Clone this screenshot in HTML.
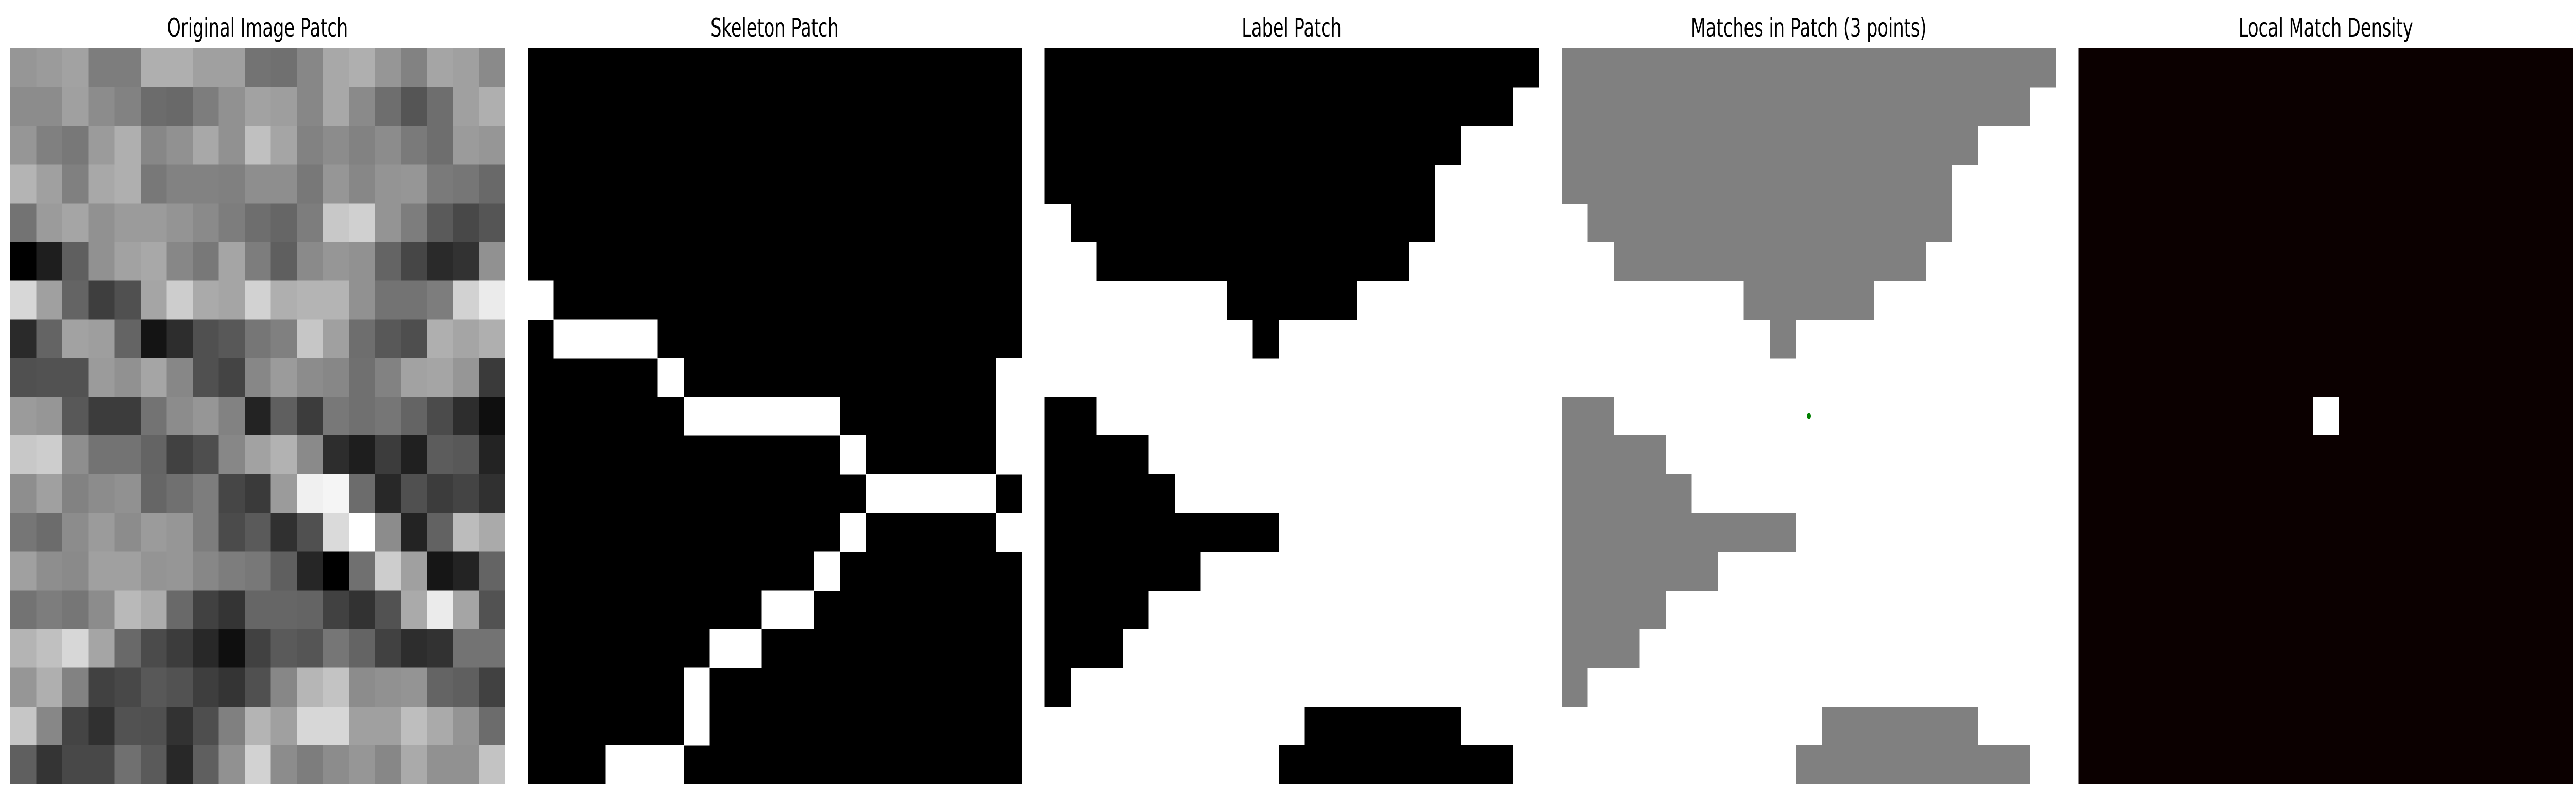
<!DOCTYPE html>
<html><head><meta charset="utf-8"><style>
html,body{margin:0;padding:0;background:#fff;width:100%;height:100%;overflow:hidden;}
svg{display:block;width:100vw;height:100vh;}
text{font-family:"DejaVu Sans","Liberation Sans",sans-serif;font-size:50px;fill:#000;}
</style></head><body>
<svg id="fig" viewBox="0 0 7433 1533" preserveAspectRatio="none" xmlns="http://www.w3.org/2000/svg">
<rect x="0" y="0" width="7433" height="1533" fill="#fff"/>
<text x="743" y="71" text-anchor="middle">Original Image Patch</text>
<text x="2235" y="71" text-anchor="middle">Skeleton Patch</text>
<text x="3727" y="71" text-anchor="middle">Label Patch</text>
<text x="5219" y="71" text-anchor="middle">Matches in Patch (3 points)</text>
<text x="6711" y="71" text-anchor="middle">Local Match Density</text>
</svg>
<script>
const gray = [
[150,155,162,125,125,175,175,160,160,115,112,135,168,175,150,130,165,160,138],
[140,140,160,140,130,108,105,125,145,162,158,135,168,138,110,85,110,160,175],
[150,128,120,155,175,135,145,168,145,192,165,130,140,130,140,122,110,155,150],
[180,160,128,168,175,120,130,130,128,142,142,120,150,135,148,150,122,118,105],
[115,155,165,145,155,155,148,138,125,110,102,125,200,208,148,125,90,72,85],
[0,30,95,145,162,168,135,120,165,125,95,138,150,145,100,70,42,50,145],
[215,160,100,62,80,165,205,170,165,210,175,180,180,145,115,115,125,210,235],
[42,100,162,158,100,20,45,80,88,118,128,198,160,110,88,78,175,165,175],
[80,82,82,155,145,165,135,80,68,135,155,140,135,112,130,162,165,150,58],
[155,150,88,60,60,115,140,150,130,35,95,60,120,112,118,100,75,45,15],
[200,205,142,115,115,100,65,78,135,162,178,138,45,30,60,32,92,88,35],
[142,160,130,140,145,102,112,125,70,58,155,240,245,108,40,80,60,68,48],
[118,108,140,155,140,155,150,125,75,90,48,80,218,255,140,35,98,188,170],
[160,142,138,160,160,148,150,135,125,120,95,38,0,112,205,160,22,35,100],
[115,125,118,140,185,172,105,65,52,102,102,100,65,50,82,170,235,165,82],
[180,192,215,165,105,75,60,40,15,65,90,85,118,100,65,45,50,115,115],
[150,175,130,65,72,88,82,62,52,80,135,182,195,140,145,148,100,95,65],
[198,135,68,48,82,80,50,78,128,180,160,215,215,160,160,190,170,148,108],
[95,52,72,72,112,90,40,95,145,210,140,125,140,150,135,170,145,145,195]
];
// skeleton white runs: [row, colStart, colEnd]
const skeletonRuns = [[6,0,0],[7,1,4],[8,5,5],[8,18,18],[9,6,11],[9,18,18],[10,12,12],[10,18,18],[11,13,17],[12,12,12],[12,18,18],[13,11,11],[14,9,10],[15,7,8],[16,6,6],[17,6,6],[18,3,5]];
// label runs: [row, colStart, colEnd]
const labelRuns = [[0,0,18],[1,0,17],[2,0,15],[3,0,14],[4,1,14],[5,2,13],[6,7,11],[7,8,8],[9,0,1],[10,0,3],[11,0,4],[12,0,8],[13,0,5],[14,0,3],[15,0,2],[16,0,0],[17,10,15],[18,9,17]];
const matchPoints = [[9,9]]; // [col,row]
const densityHot = [[9,9]];

const N = 19, TOP = 94, SIZE = 1427, C = SIZE / N;
const LEFTS = [30, 1522, 3014, 4506, 5998];
const svg = document.getElementById('fig');
const NS = 'http://www.w3.org/2000/svg';
function xs(p, c) { return LEFTS[p] + c * C; }
function ys(r) { return TOP + r * C; }
function rect(x, y, w, h, fill) {
  const e = document.createElementNS(NS, 'rect');
  e.setAttribute('x', x); e.setAttribute('y', y);
  e.setAttribute('width', w); e.setAttribute('height', h);
  e.setAttribute('fill', fill); e.setAttribute('shape-rendering', 'crispEdges');
  svg.appendChild(e); return e;
}
for (let r = 0; r < N; r++) for (let c = 0; c < N; c++) {
  const v = gray[r][c];
  const e = rect(xs(0, c), ys(r), C + 0.6, C + 0.6, `rgb(${v},${v},${v})`);
  
  
}
let bg = rect(xs(1, 0), ys(0), SIZE, SIZE, '#000');


skeletonRuns.forEach(([r, a, b]) => {
  const e = rect(xs(1, a), ys(r), (b - a + 1) * C, C + 0.5, '#fff');
  
  
});
labelRuns.forEach(([r, a, b]) => {
  const e = rect(xs(2, a), ys(r), (b - a + 1) * C, C + 0.5, '#000');
  
  
  const g = rect(xs(3, a), ys(r), (b - a + 1) * C, C + 0.5, '#808080');
  
  
});
matchPoints.forEach(([c, r]) => {
  const e = document.createElementNS(NS, 'circle');
  e.setAttribute('cx', xs(3, c + 0.5)); e.setAttribute('cy', ys(r + 0.5));
  e.setAttribute('r', 6); e.setAttribute('fill', '#008000');
  
  
  svg.appendChild(e);
});
bg = rect(xs(4, 0), ys(0), SIZE, SIZE, '#0b0000');


densityHot.forEach(([c, r]) => {
  const e = rect(xs(4, c), ys(r), C, C, '#fff');
  
  
});
</script>
</body></html>
